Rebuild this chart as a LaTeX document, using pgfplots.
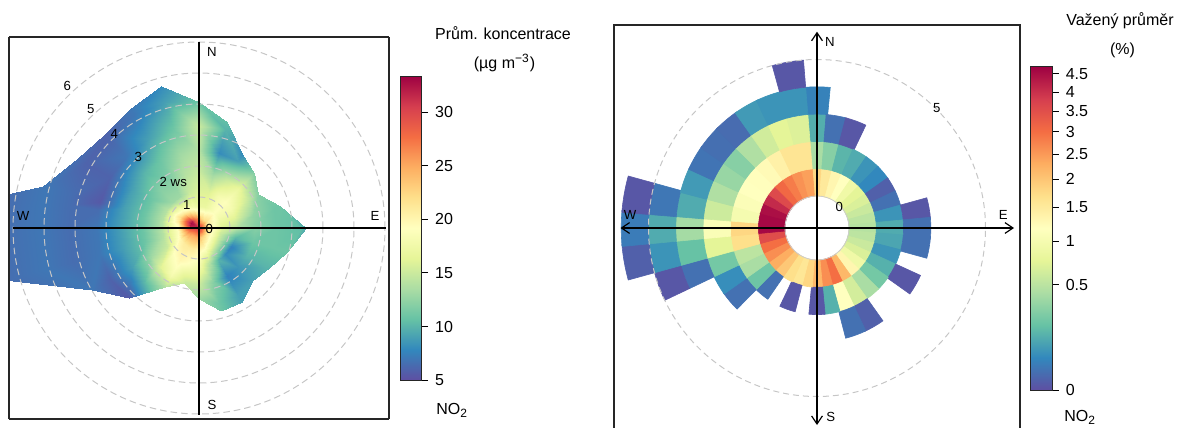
\documentclass[border=0pt]{standalone}
\usepackage{pgfplots}
\pgfplotsset{compat=1.18}
\usepackage{fontspec}
\setmainfont{Liberation Sans}
\usetikzlibrary{arrows.meta}

\pgfplotsset{
  colormap={spectral}{rgb255=(94,79,162) rgb255=(50,136,189) rgb255=(102,194,165) rgb255=(171,221,164) rgb255=(230,245,152) rgb255=(255,255,191) rgb255=(254,224,139) rgb255=(253,174,97) rgb255=(244,109,67) rgb255=(213,62,79) rgb255=(158,1,66)},
}
\newcommand\cbfont{\fontsize{8}{9.6}\selectfont}
\newcommand\pfont{\fontsize{6.6}{8}\selectfont}

% annular sector mark: ring \ck (1..6), compass direction \cd
\pgfdeclareplotmark{cell}{%
  \pgfmathsetmacro\cellRm{(0.672+\ck)*13.65}%
  \pgfmathsetmacro\cellRo{(1.172+\ck)*13.65}%
  \pgfmathsetmacro\cellRi{(0.172+\ck)*13.65}%
  \pgfmathsetmacro\cellA{84.6-\cd}%
  \pgfmathsetmacro\cellB{95.4-\cd}%
  \pgfmathsetmacro\cellX{-\cellRm*sin(\cd)}%
  \pgfmathsetmacro\cellY{-\cellRm*cos(\cd)}%
  \pgfpathmoveto{\pgfpointadd{\pgfpoint{\cellX pt}{\cellY pt}}{\pgfpointpolar{\cellA}{\cellRo pt}}}%
  \pgfpatharc{\cellA}{\cellB}{\cellRo pt}%
  \pgfpathlineto{\pgfpointadd{\pgfpoint{\cellX pt}{\cellY pt}}{\pgfpointpolar{\cellB}{\cellRi pt}}}%
  \pgfpatharc{\cellB}{\cellA}{\cellRi pt}%
  \pgfpathclose
  \pgfusepathqfillstroke
}

\begin{document}
\begin{tikzpicture}
% ---------------- left: polar plot ----------------
\begin{axis}[
  at={(4.5pt,-209.5pt)}, anchor=south west,
  scale only axis, width=190pt, height=191pt,
  view={0}{90},
  xmin=-6.129, xmax=6.129, ymin=-6.161, ymax=6.161, zmin=-1, zmax=1,
  xtick=\empty, ytick=\empty, ztick=\empty,
  axis line style={black!85, line width=0.55pt},
  colormap name=spectral,
  point meta min=5, point meta max=33.4,
  colorbar,
  colorbar style={
    at={(parent axis.north east)}, anchor=north west,
    xshift=-3pt, yshift=-19.5pt,
    scale only axis, width=10.85pt, height=152pt,
    ytick={5,10,15,20,25,30}, yticklabels={5,10,15,20,25,30},
    yticklabel pos=right, ytick pos=right, tick align=outside,
    major tick length=3.2pt,
    tick style={black, line width=0.5pt},
    axis line style={black!85, line width=0.5pt},
    yticklabel style={font=\cbfont},
  },
]
\addplot3[surf, shader=interp, mesh/cols=10, point meta=\thisrow{v}]
 table[x expr={\thisrow{r}*cos(\thisrow{a})}, y expr={\thisrow{r}*sin(\thisrow{a})}, z expr={0}] {
a r v
0 0 31
0 0.3 21
0 0.7 16
0 1.2 14
0 1.8 12
0 2.5 11
0 3.3 10.5
0 3.45 9.5
0 3.45 9.5
0 3.45 9.5

15 0 31
15 0.3 21
15 0.7 17
15 1.2 16
15 1.8 12.5
15 2.5 11
15 2.7 11
15 2.7 11
15 2.7 11
15 2.7 11

30 0 31
30 0.3 21
30 0.7 18
30 1.2 18
30 1.8 15
30 2.2 12
30 2.2 12
30 2.2 12
30 2.2 12
30 2.2 12

45 0 31
45 0.3 22
45 0.7 19
45 1.2 19
45 1.8 17
45 2.5 12
45 2.5 12
45 2.5 12
45 2.5 12
45 2.5 12

60 0 31
60 0.3 22
60 0.7 18
60 1.2 18
60 1.8 15
60 2.5 9
60 2.75 8
60 2.75 8
60 2.75 8
60 2.75 8

75 0 31
75 0.3 23
75 0.7 17
75 1.2 16
75 1.8 13
75 2.5 8
75 3.3 10
75 3.55 10.5
75 3.55 10.5
75 3.55 10.5

90 0 31
90 0.3 25
90 0.7 17
90 1.2 16
90 1.8 15
90 2.5 14
90 3.3 15
90 4.06 11
90 4.06 11
90 4.06 11

105 0 31
105 0.3 27
105 0.7 18
105 1.2 15
105 1.8 14
105 2.5 13
105 3.3 11
105 4.2 9
105 4.75 8
105 4.75 8

120 0 31
120 0.3 29
120 0.7 19
120 1.2 13
120 1.8 12
120 2.5 11
120 3.3 9
120 4.2 7
120 4.45 7
120 4.45 7

135 0 31
135 0.3 32
135 0.7 21
135 1.2 13
135 1.8 12
135 2.5 10
135 3.3 7
135 4.2 6
135 4.3 6
135 4.3 6

150 0 31
150 0.3 33
150 0.7 22
150 1.2 14
150 1.8 11
150 2.5 9
150 3.3 6
150 4.2 6
150 4.5 6.5
150 4.5 6.5

165 0 31
165 0.3 32
165 0.7 21
165 1.2 14
165 1.8 11
165 2.5 9
165 3.3 5.5
165 4.2 6.5
165 5.1 7
165 5.2 7

170 0 31
170 0.3 31
170 0.7 20
170 1.2 14
170 1.8 11
170 2.5 9
170 3.3 6.5
170 4.2 6.5
170 5.1 7
170 6.3 6.5

180 0 31
180 0.3 30
180 0.7 19
180 1.2 14
180 1.8 11
180 2.5 9
180 3.3 7
180 4.2 6.5
180 5.1 7
180 6.5 6.5

195 0 31
195 0.3 28
195 0.7 19
195 1.2 14
195 1.8 11
195 2.5 9
195 3.3 7
195 4.2 6.5
195 5.1 7
195 6.5 6.5

210 0 31
210 0.3 26
210 0.7 20
210 1.2 15
210 1.8 13
210 2.5 9
210 3.3 6
210 4.0 7
210 4.0 7
210 4.0 7

225 0 31
225 0.3 25
225 0.7 21
225 1.2 19
225 1.8 16
225 2.5 10
225 3.2 5.5
225 3.2 5.5
225 3.2 5.5
225 3.2 5.5

240 0 31
240 0.3 25
240 0.7 21
240 1.2 20
240 1.8 18
240 2.2 14
240 2.2 14
240 2.2 14
240 2.2 14
240 2.2 14

255 0 31
255 0.3 25
255 0.7 21
255 1.2 19
255 1.8 15
255 1.85 15
255 1.85 15
255 1.85 15
255 1.85 15
255 1.85 15

270 0 31
270 0.3 24
270 0.7 20
270 1.2 18
270 1.8 15
270 2.3 13
270 2.3 13
270 2.3 13
270 2.3 13
270 2.3 13

285 0 31
285 0.3 23
285 0.7 19
285 1.2 14
285 1.8 12
285 2.5 11
285 2.77 11
285 2.77 11
285 2.77 11
285 2.77 11

300 0 31
300 0.3 22
300 0.7 17
300 1.2 10
300 1.8 7.5
300 2.5 9
300 2.75 9
300 2.75 9
300 2.75 9
300 2.75 9

315 0 31
315 0.3 21
315 0.7 16
315 1.2 8
315 1.8 8.5
315 2.4 9
315 2.4 9
315 2.4 9
315 2.4 9
315 2.4 9

330 0 31
330 0.3 21
330 0.7 15
330 1.2 7.5
330 1.8 10
330 2.5 10
330 2.6 10
330 2.6 10
330 2.6 10
330 2.6 10

345 0 31
345 0.3 21
345 0.7 15
345 1.2 10
345 1.8 11
345 2.5 11
345 2.95 11
345 2.95 11
345 2.95 11
345 2.95 11

360 0 31
360 0.3 21
360 0.7 16
360 1.2 14
360 1.8 12
360 2.5 11
360 3.3 10.5
360 3.45 9.5
360 3.45 9.5
360 3.45 9.5
};
\end{axis}

% ---------------- right: polar frequency plot ----------------
\begin{axis}[
  at={(307pt,-215.5pt)}, anchor=south west,
  scale only axis, width=203pt, height=203pt,
  xmin=-7.436, xmax=7.436, ymin=-7.436, ymax=7.436,
  xtick=\empty, ytick=\empty,
  axis line style={black!85, line width=0.55pt},
  colormap name=spectral,
  point meta min=0, point meta max=2.17,
  colorbar,
  colorbar style={
    at={(parent axis.north east)}, anchor=north west,
    xshift=-3.5pt, yshift=-20.85pt,
    scale only axis, width=11.15pt, height=161.65pt,
    ytick={0,0.7071,1,1.2247,1.4142,1.5811,1.7321,1.8708,2,2.1213},
    yticklabels={0,0.5,1,1.5,2,2.5,3,3.5,4,4.5},
    yticklabel pos=right, ytick pos=right, tick align=outside,
    major tick length=3.2pt,
    tick style={black, line width=0.5pt},
    axis line style={black!85, line width=0.5pt},
    yticklabel style={font=\cbfont},
  },
]
\addplot[scatter, only marks, mark=cell,
  point meta={sqrt(\thisrow{v})},
  visualization depends on={value \thisrow{d}\as\cd},
  visualization depends on={value \thisrow{k}\as\ck},
  scatter/use mapped color={draw=mapped color, fill=mapped color},
  mark options={line width=0.3pt}]
 table[x expr={(0.672+\thisrow{k})*sin(\thisrow{d})}, y expr={(0.672+\thisrow{k})*cos(\thisrow{d})}] {
d k v
0 1 1.8
0 2 0.42
0 3 0.13
0 4 0.038
10 1 1.53
10 2 0.29
10 3 0.017
20 1 1.32
20 2 0.15
20 3 0.001
30 1 1.18
30 2 0.12
40 1 0.91
40 2 0.068
50 1 0.75
50 2 0.047
60 1 0.68
60 2 0.004
70 1 0.58
70 2 0.017
80 1 0.51
80 2 0.068
80 3 0.001
90 1 0.48
90 2 0.12
90 3 0.017
100 1 0.51
100 2 0.106
100 3 0.017
110 1 0.58
110 2 0.068
120 1 0.68
120 2 0.136
120 3 0.001
130 1 0.91
130 2 0.23
140 1 1.32
140 2 0.42
150 1 2.18
150 2 0.64
150 3 0.004
160 1 3.01
160 2 1.18
160 3 0.017
170 1 2.65
170 2 0.136
180 1 2.18
180 2 0.001
190 1 1.8
200 1 1.58
200 2 0.001
210 1 1.7
220 1 1.99
220 2 0.017
230 1 2.31
230 2 0.21
230 3 0.017
240 1 2.65
240 2 0.42
240 3 0.057
250 1 3.01
250 2 0.51
250 3 0.23
250 4 0.017
250 5 0.001
260 1 3.56
260 2 1.7
260 3 0.75
260 4 0.19
260 5 0.068
260 6 0.004
270 1 4.6
270 2 1.8
270 3 1.08
270 4 0.4
270 5 0.12
270 6 0.03
280 1 4.6
280 2 1.0
280 3 0.6
280 4 0.12
280 5 0.023
280 6 0.001
290 1 4.5
290 2 1.1
290 3 0.45
290 4 0.08
300 1 4.1
300 2 1.18
300 3 0.35
300 4 0.02
310 1 3.6
310 2 1.2
310 3 0.29
310 4 0.015
320 1 3.1
320 2 1.25
320 3 0.45
320 4 0.012
330 1 2.85
330 2 1.4
330 3 0.62
330 4 0.08
340 1 2.6
340 2 1.6
340 3 0.75
340 4 0.068
350 1 2.45
350 2 1.6
350 3 0.7
350 4 0.068
350 5 0.001
};
\end{axis}

% ---------------- overlays in pixel coordinates ----------------
\begin{scope}[x=0.5pt, y=-0.5pt]
% left polar grid
\foreach \k in {1,...,6}{
  \draw[gray!45, line width=0.5pt, dash pattern=on 3.3pt off 2pt] (199,228) circle[radius={15.5pt*\k}];
}
\draw[black, line width=0.55pt] (199,41.7) -- (199,415) (12.5,228) -- (385.5,228);
\node[font=\pfont, inner sep=0pt] at (212,52) {N};
\node[font=\pfont, inner sep=0pt] at (212,405) {S};
\node[font=\pfont, inner sep=0pt] at (23,216) {W};
\node[font=\pfont, inner sep=0pt] at (375,216) {E};
\node[font=\pfont, inner sep=0pt] at (209.3,229.3) {0};
\node[font=\pfont, inner sep=0pt] at (186.7,205) {1};
\node[font=\pfont, inner sep=0pt] at (173.3,181.7) {2 ws};
\node[font=\pfont, inner sep=0pt] at (138.3,156.7) {3};
\node[font=\pfont, inner sep=0pt] at (114.3,134) {4};
\node[font=\pfont, inner sep=0pt] at (90.7,109.3) {5};
\node[font=\pfont, inner sep=0pt] at (67.3,85.7) {6};
% right polar grid
\draw[gray!45, line width=0.5pt, dash pattern=on 3pt off 2pt] (817,228) circle[radius=84.25pt];
\draw[gray!40, line width=0.4pt] (817,228) circle[radius=16pt];
\draw[black, line width=0.6pt, {Straight Barb[length=4pt,width=5.4pt]}-{Straight Barb[length=4pt,width=5.4pt]}] (817,425) -- (817,31.7);
\draw[black, line width=0.6pt, {Straight Barb[length=4pt,width=5.4pt]}-{Straight Barb[length=4pt,width=5.4pt]}] (620.5,228) -- (1014,228);
\node[font=\pfont, inner sep=0pt] at (830,41.7) {N};
\node[font=\pfont, inner sep=0pt] at (830.7,416.7) {S};
\node[font=\pfont, inner sep=0pt] at (630,215) {W};
\node[font=\pfont, inner sep=0pt] at (1003.3,215) {E};
\node[font=\pfont, inner sep=0pt] at (936.7,108.3) {5};
\node[font=\pfont, inner sep=0pt] at (839.3,206.7) {0};
% colour bar titles
\node[font=\cbfont, inner sep=0pt] at (503,33) {Prům. koncentrace};
\node[font=\cbfont, inner sep=0pt] at (504.5,63) {(µg m\textsuperscript{−3})};
\node[font=\cbfont, inner sep=0pt, anchor=west] at (436,410) {NO\textsubscript{2}};
\node[font=\cbfont, inner sep=0pt] at (1120,21) {Važený průměr};
\node[font=\cbfont, inner sep=0pt] at (1122.5,50) {(\%)};
\node[font=\cbfont, inner sep=0pt, anchor=west] at (1064,417) {NO\textsubscript{2}};
\end{scope}
\pgfresetboundingbox
\useasboundingbox (0,0) rectangle (589pt,-214pt);
\end{tikzpicture}
\end{document}
